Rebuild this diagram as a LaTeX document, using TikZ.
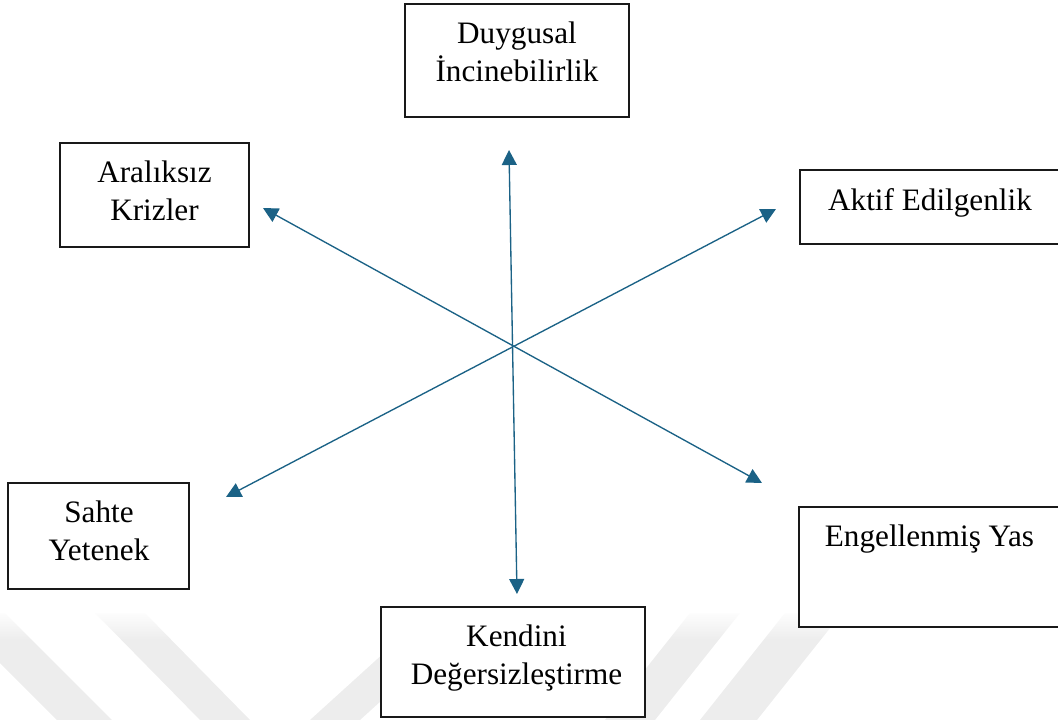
\documentclass[tikz,border=0pt]{standalone}
\usepackage{fontspec}
\setmainfont{Liberation Serif}
\usetikzlibrary{arrows.meta,fadings}
\definecolor{arrowblue}{RGB}{27,98,134}
\definecolor{wm}{RGB}{237,237,237}
\begin{document}
\begin{tikzpicture}[x=1pt,y=-1pt,
  box/.style={rectangle,draw=black!90,line width=1.4pt,fill=white,inner sep=0pt},
  lbl/.style={font=\fontsize{31.2}{37.5}\selectfont,align=center,inner sep=0pt,anchor=north},
  conn/.style={draw=arrowblue,line width=1.35pt,{Triangle[length=15pt,width=15pt]}-{Triangle[length=15pt,width=15pt]}},
  wmark/.style={fill=wm,draw=none}]
\useasboundingbox (0,0) rectangle (1058,720);
\begin{scope}
\clip (0,0) rectangle (1058,720);
% watermark stripes
\fill[wmark] (-50,613) -- (5,613) -- (112,720) -- (57,720) -- (-50,613) -- cycle;
\fill[wmark] (95,613) -- (145,613) -- (250,720) -- (200,720) -- cycle;
\fill[wmark] (428,613) -- (478,613) -- (360,720) -- (310,720) -- cycle;
\fill[wmark] (690,613) -- (740,613) -- (655,720) -- (605,720) -- cycle;
\fill[wmark] (785,613) -- (842,613) -- (757,720) -- (700,720) -- cycle;
\fill[white,path fading=south] (0,610) rectangle (1058,640);
% boxes
\node[box,minimum width=224pt,minimum height=113pt] (duy) at (517,60.5) {};
\node[box,minimum width=189pt,minimum height=104pt] (ara) at (154.5,195) {};
\node[box,minimum width=266pt,minimum height=74pt] (akt) at (933,207) {};
\node[box,minimum width=181pt,minimum height=106pt] (sah) at (98.5,536) {};
\node[box,minimum width=267pt,minimum height=120pt] (eng) at (932.5,567) {};
\node[box,minimum width=264pt,minimum height=110pt] (ken) at (513,662) {};
% labels
\node[lbl] (tduy) at (517,22) {Duygusal\\İncinebilirlik};
\node[lbl] (tara) at (154.5,161) {Aralıksız\\Krizler};
\node[lbl] (takt) at (930,188) {Aktif Edilgenlik};
\node[lbl] (tsah) at (99,501) {Sahte\\Yetenek};
\node[lbl] (teng) at (929.5,525) {Engellenmiş Yas};
\node[lbl] (tken) at (516.5,625) {Kendini\\Değersizleştirme};
% arrow ends
\coordinate (c) at (513,347);
\coordinate (pN) at (509,150);
\coordinate (pS) at (517,594);
\coordinate (pNW) at (263,208);
\coordinate (pSE) at (762,483);
\coordinate (pNE) at (776,209);
\coordinate (pSW) at (226,497);
\draw[conn] (pN) -- (pS);
\draw[conn] (pNW) -- (pSE);
\draw[conn] (pNE) -- (pSW);
\end{scope}
\end{tikzpicture}
\end{document}
